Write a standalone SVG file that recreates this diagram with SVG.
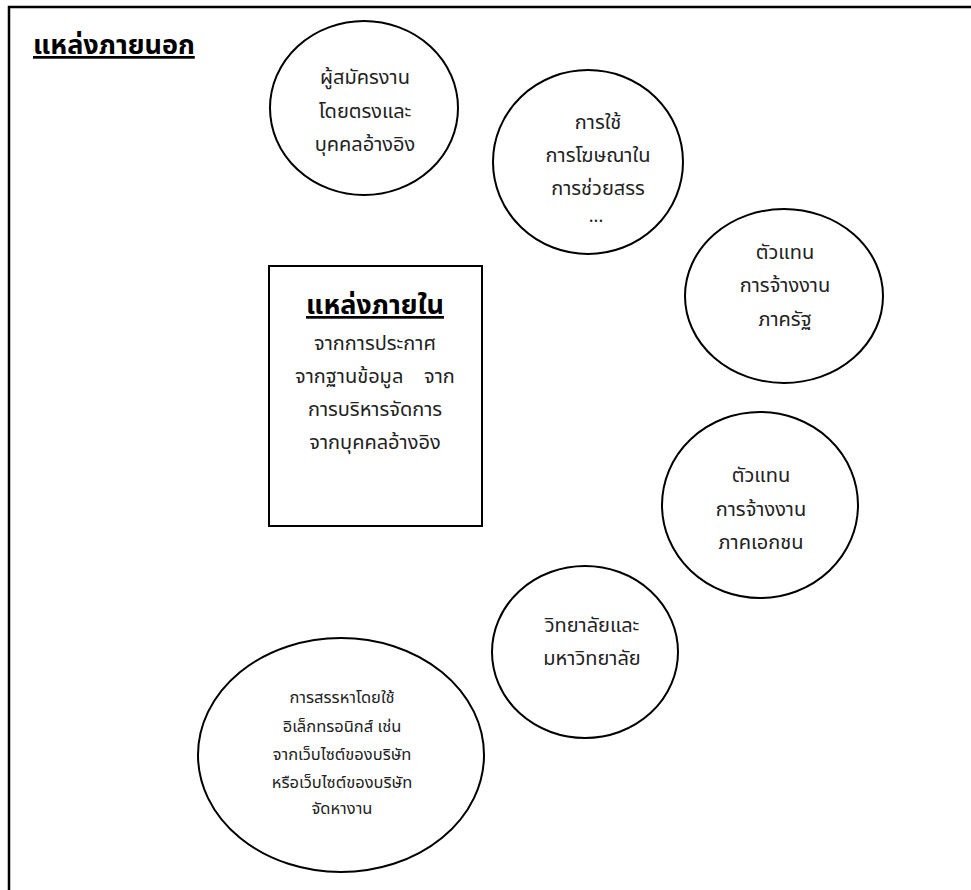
<svg xmlns="http://www.w3.org/2000/svg" width="971" height="890" viewBox="0 0 971 890">
  <style>
    .frame { fill: none; stroke: #000000; stroke-width: 2.5; }
    .shape { fill: #ffffff; stroke: #000000; stroke-width: 2; }
    .lbl { font-family: "Noto Sans Thai", "Noto Sans", "DejaVu Sans", sans-serif; font-size: 20px; fill: #222222; text-anchor: middle; }
    .small { font-size: 16.5px; }
    .dots { font-size: 18px; }
    .head { font-family: "Noto Sans Thai", "Noto Sans", "DejaVu Sans", sans-serif; font-size: 27px; font-weight: bold; fill: #000000; text-decoration: underline; }
  </style>
  <rect width="971" height="890" fill="#ffffff"/>
  <!-- outer frame, open on the right and bottom -->
  <path class="frame" d="M9,890 V7 H971"/>

  <text class="head" x="33" y="54">แหล่งภายนอก</text>

  <g id="connectors"></g>

  <g id="node-applicants">
    <ellipse class="shape" cx="364" cy="108" rx="94" ry="87"/>
    <text class="lbl" x="365" y="84">ผู้สมัครงาน</text>
    <text class="lbl" x="365" y="118">โดยตรงและ</text>
    <text class="lbl" x="365" y="151">บุคคลอ้างอิง</text>
  </g>

  <g id="node-advertising">
    <ellipse class="shape" cx="588" cy="162" rx="95" ry="92"/>
    <text class="lbl" x="598" y="129">การใช้</text>
    <text class="lbl" x="598" y="162">การโฆษณาใน</text>
    <text class="lbl" x="598" y="195">การช่วยสรร</text>
    <text class="lbl dots" x="596" y="222">...</text>
  </g>

  <g id="node-public-agency">
    <ellipse class="shape" cx="784" cy="296" rx="99" ry="87"/>
    <text class="lbl" x="785" y="259">ตัวแทน</text>
    <text class="lbl" x="785" y="292">การจ้างงาน</text>
    <text class="lbl" x="785" y="326">ภาครัฐ</text>
  </g>

  <g id="node-internal">
    <rect class="shape" x="269" y="266" width="213" height="260"/>
    <text class="head" x="375" y="314" text-anchor="middle">แหล่งภายใน</text>
    <text class="lbl" x="375" y="350">จากการประกาศ</text>
    <text class="lbl" x="375" y="383" xml:space="preserve">จากฐานข้อมูล    จาก</text>
    <text class="lbl" x="375" y="416">การบริหารจัดการ</text>
    <text class="lbl" x="375" y="449">จากบุคคลอ้างอิง</text>
  </g>

  <g id="node-private-agency">
    <ellipse class="shape" cx="760" cy="505" rx="98" ry="93"/>
    <text class="lbl" x="761" y="482">ตัวแทน</text>
    <text class="lbl" x="761" y="516">การจ้างงาน</text>
    <text class="lbl" x="761" y="549">ภาคเอกชน</text>
  </g>

  <g id="node-universities">
    <ellipse class="shape" cx="585" cy="652" rx="93" ry="86"/>
    <text class="lbl" x="592" y="632">วิทยาลัยและ</text>
    <text class="lbl" x="592" y="665">มหาวิทยาลัย</text>
  </g>

  <g id="node-electronic">
    <ellipse class="shape" cx="341" cy="755" rx="143" ry="117"/>
    <text class="lbl small" x="342" y="703">การสรรหาโดยใช้</text>
    <text class="lbl small" x="342" y="732">อิเล็กทรอนิกส์ เช่น</text>
    <text class="lbl small" x="342" y="760">จากเว็บไซต์ของบริษัท</text>
    <text class="lbl small" x="342" y="788">หรือเว็บไซต์ของบริษัท</text>
    <text class="lbl small" x="342" y="814">จัดหางาน</text>
  </g>
</svg>
